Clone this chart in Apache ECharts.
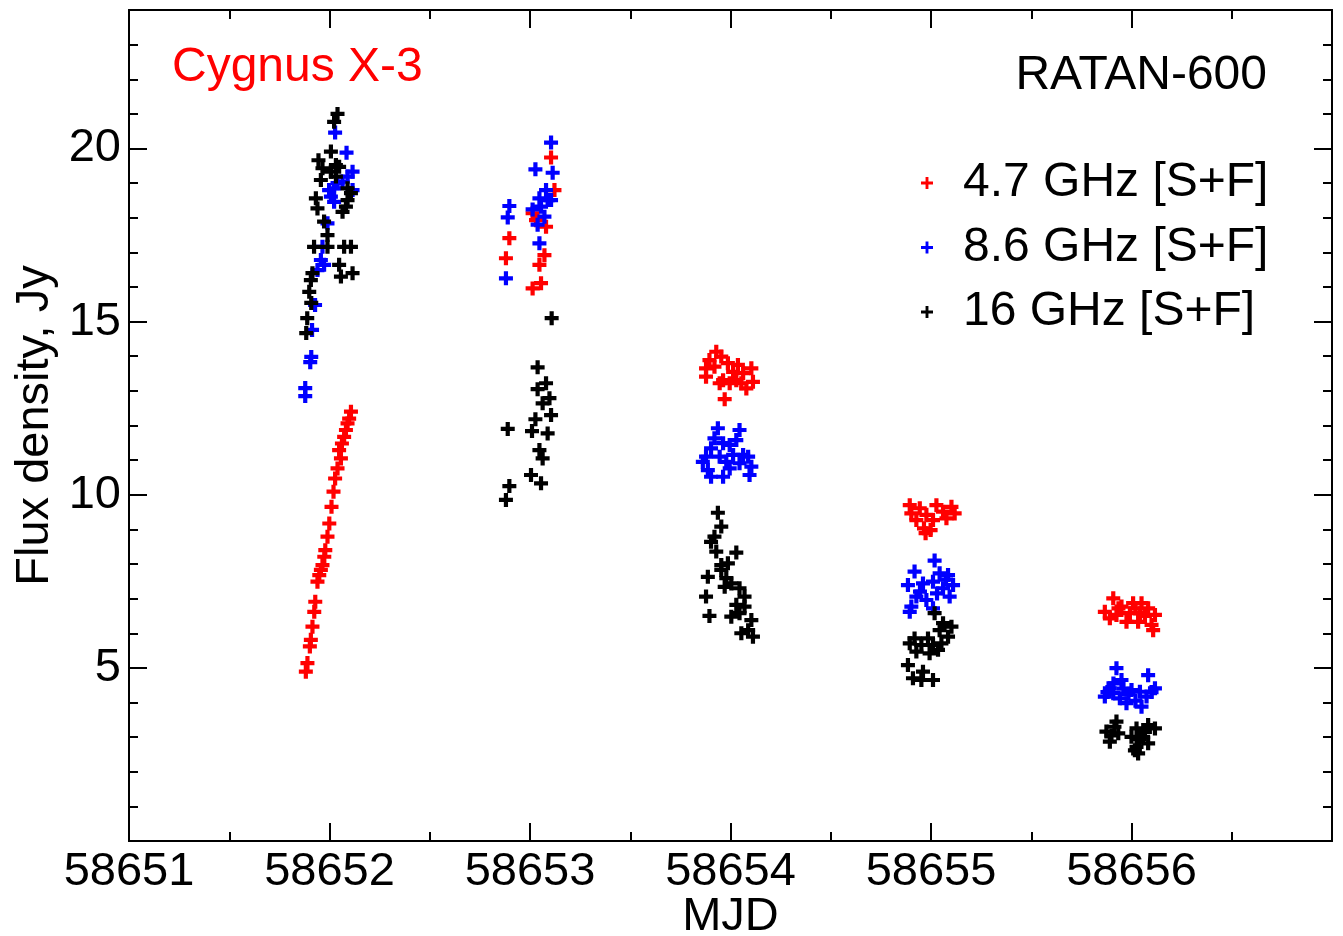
<!DOCTYPE html>
<html>
<head>
<meta charset="utf-8">
<script src="https://cdn.jsdelivr.net/npm/echarts@6/dist/echarts.min.js"></script>
<style>
html,body{margin:0;padding:0;background:#fff;}
#chart{width:1343px;height:936px;}
</style>
</head>
<body>
<div id="chart"></div>
<script>
// ---- data ----
const seriesNames = ['4.7 GHz [S+F]', '8.6 GHz [S+F]', '16 GHz [S+F]'];
const seriesColors = ['#ff0000', '#0000ff', '#000000'];
const xTickLabels = ['58651', '58652', '58653', '58654', '58655', '58656'];
const yTickLabels = ['5', '10', '15', '20'];

const mjd47 = [
  58652.107,58652.098,58652.090,58652.082,58652.073,58652.062,58652.048,58652.057,58652.040,58652.028,
  58652.020,58652.010,58651.999,58651.990,58651.979,58651.974,58651.965,58651.957,58651.949,58651.940,
  58651.929,58651.924,58651.915,58651.907,58651.902,58651.890,58651.882,
  58653.105,58653.122,58653.030,58653.080,58653.072,58653.047,58653.055,58653.013,58652.897,58652.880,58653.013,
  58653.929,58653.954,58653.895,58653.878,58653.920,58653.987,58654.037,58654.104,58654.013,58654.063,
  58653.878,58653.963,58654.029,58654.112,58653.996,58654.079,58653.971,58653.946,58654.054,
  58654.894,58654.944,58655.027,58655.102,58654.902,58654.977,58655.060,58655.118,58654.927,58655.010,
  58655.077,58654.965,58654.998,58654.973,
  58655.909,58655.867,58655.950,58656.008,58656.050,58656.083,58656.117,58655.925,58655.992,58656.042,
  58655.975,58656.033,58656.100,58656.108,58655.892,58655.935,58656.067,58656.020
];
const flux47 = [
  12.40,12.20,12.06,11.87,11.67,11.48,11.29,11.05,10.76,10.47,
  10.09,9.65,9.17,8.79,8.40,8.21,7.97,7.83,7.68,7.49,
  6.91,6.62,6.19,5.81,5.62,5.14,4.89,
  19.74,18.80,17.93,17.74,16.92,16.64,16.11,15.96,17.41,16.83,18.13,
  14.13,13.99,13.89,13.65,13.70,13.80,13.75,13.65,13.55,13.51,
  13.41,13.31,13.31,13.26,13.22,13.07,12.76,13.22,13.22,
  9.70,9.61,9.70,9.65,9.46,9.42,9.51,9.46,9.27,9.27,
  9.32,9.03,8.98,8.89,
  7.01,6.62,6.77,6.87,6.87,6.72,6.53,6.53,6.58,6.58,
  6.33,6.33,6.24,6.09,6.43,6.72,6.50,6.72
];

const mjd86 = [
  58652.028,58652.085,58652.115,58652.090,58652.065,58652.040,58652.023,58652.115,58652.007,58652.023,
  58651.998,58651.990,58651.965,58651.957,58651.973,58651.940,58651.928,58651.913,58651.909,58651.904,
  58651.879,58651.879,
  58653.105,58653.027,58653.113,58653.080,58653.047,58653.088,58653.105,58653.013,58653.072,58653.038,
  58653.047,58652.897,58652.889,58652.880,58653.055,
  58653.937,58654.045,58653.920,58654.029,58653.963,58653.903,58653.996,58653.878,58653.946,58654.013,
  58654.063,58654.088,58653.862,58653.979,58654.045,58654.104,58653.887,58653.963,58653.903,58654.095,
  58653.996,
  58655.018,58654.918,58655.043,58655.085,58654.885,58654.960,58655.010,58655.110,58655.060,58654.927,
  58654.977,58655.093,58654.902,58655.010,58654.894,58654.945,58655.030,58655.075,
  58655.925,58656.083,58655.950,58655.892,58656.000,58656.117,58656.042,58655.867,58655.942,58656.075,
  58655.975,58656.050,58655.909,58655.910,58655.985,58656.020,58656.100,58655.880,58655.960
];
const flux86 = [
  20.46,19.88,19.33,19.19,19.04,19.00,18.85,18.80,18.61,18.46,
  18.80,17.84,17.16,16.78,16.64,16.49,15.48,14.76,13.98,13.83,
  13.08,12.85,
  20.17,19.40,19.30,18.80,18.56,18.51,18.51,18.24,18.03,17.80,
  17.26,18.34,18.01,16.25,18.32,
  11.92,11.87,11.63,11.58,11.49,11.34,11.44,11.10,11.10,11.15,
  11.15,11.10,10.95,10.95,10.91,10.81,10.71,10.52,10.52,10.57,
  10.76,
  8.10,7.78,7.73,7.68,7.39,7.44,7.49,7.39,7.30,7.06,
  6.96,7.06,6.77,6.72,6.62,7.20,7.15,7.55,
  4.99,4.79,4.65,4.41,4.36,4.41,4.31,4.17,4.12,4.17,
  3.98,3.88,4.27,4.55,4.25,4.05,4.30,4.30,4.40
];

const mjd16 = [
  58652.040,58652.023,58652.007,58651.945,58651.965,58652.032,58652.048,58652.007,58651.957,58652.032,
  58652.090,58652.107,58651.932,58652.090,58651.940,58652.082,58652.065,58651.973,58651.990,58651.923,
  58651.990,58652.073,58652.107,58652.048,58652.057,58652.115,58651.915,58651.907,58651.899,58651.909,
  58651.889,58651.884,
  58653.038,58653.080,58653.038,58653.097,58653.063,58653.105,58653.027,58652.889,58653.010,58653.088,
  58653.047,58653.063,58653.005,58653.055,58652.897,58652.880,58653.108,
  58653.937,58653.954,58653.920,58653.903,58653.929,58654.029,58653.954,58653.987,58653.887,58653.954,
  58653.979,58654.004,58653.971,58654.045,58653.878,58654.070,58654.029,58654.070,58654.045,58654.004,
  58653.895,58654.104,58654.054,58654.112,58654.088,
  58655.018,58655.060,58655.102,58655.043,58655.085,58654.918,58654.985,58654.894,58654.952,58655.010,
  58655.052,58654.927,58654.993,58655.035,58654.885,58654.960,58654.910,58655.010,58654.952,
  58655.925,58655.875,58655.934,58655.892,58656.083,58656.117,58656.025,58656.000,58656.058,58656.083,
  58656.025,58656.033,58655.900,58655.915,58656.040,58656.067,58656.017
];
const flux16 = [
  21.00,20.77,19.91,19.66,19.43,19.52,19.47,19.33,19.09,19.19,
  18.85,18.71,18.56,18.51,18.27,18.32,18.17,17.89,17.50,17.16,
  17.16,17.16,17.16,16.64,16.30,16.40,16.40,16.20,15.86,15.54,
  15.10,14.67,
  13.68,13.22,13.05,12.79,12.64,12.30,12.18,11.90,11.84,11.77,
  11.29,11.05,10.57,10.33,10.25,9.85,15.10,
  9.48,9.08,8.79,8.64,8.36,8.33,7.97,8.02,7.63,7.83,
  7.59,7.44,7.34,7.30,7.06,7.06,6.82,6.77,6.58,6.48,
  6.50,6.38,6.00,5.90,6.09,
  6.58,6.29,6.19,6.09,5.90,5.85,5.85,5.71,5.66,5.66,
  5.71,5.47,5.42,5.52,5.08,4.89,4.70,4.65,4.65,
  3.45,3.16,3.11,2.87,3.35,3.25,3.25,3.01,3.01,2.82,
  2.72,2.53,3.05,3.30,2.95,3.15,2.62
];

// ---- chart ----
const FONT = 'Liberation Sans';
const PLUS = 'path://M0,3.5 H10 V6.5 H0 Z M3.5,0 H6.5 V10 H3.5 Z';
const LEG_PLUS = 'path://M0,3.8 H10 V6.2 H0 Z M3.8,0 H6.2 V10 H3.8 Z';

function zip(xs, ys) { return xs.map((x, i) => [x, ys[i]]); }
const seriesData = [zip(mjd47, flux47), zip(mjd86, flux86), zip(mjd16, flux16)];

const axisLineStyle = { color: '#000', width: 2 };

function xAx(pos, showLabel) {
  return {
    type: 'value', position: pos, min: 58651, max: 58657, interval: 1,
    axisLine: { show: true, onZero: false, lineStyle: axisLineStyle },
    axisTick: { show: true, inside: true, length: 18, lineStyle: axisLineStyle },
    minorTick: { show: true, splitNumber: 2, length: 9, lineStyle: axisLineStyle },
    splitLine: { show: false }, minorSplitLine: { show: false },
    axisLabel: {
      show: showLabel, fontSize: 47, fontFamily: FONT, color: '#000', margin: 8,
      formatter: v => { const s = String(Math.round(v)); return xTickLabels.includes(s) ? s : ''; }
    },
    name: showLabel ? 'MJD' : '', nameLocation: 'middle', nameGap: 53, nameMoveOverlap: false,
    nameTextStyle: { fontSize: 47, fontFamily: FONT, color: '#000' }
  };
}
function yAx(pos, interval, len, showLabel) {
  return {
    type: 'value', position: pos, min: 0, max: 24, interval: interval,
    axisLine: { show: true, onZero: false, lineStyle: axisLineStyle },
    axisTick: { show: true, inside: true, length: len, lineStyle: axisLineStyle },
    splitLine: { show: false },
    axisLabel: {
      show: showLabel, fontSize: 47, fontFamily: FONT, color: '#000', margin: 8,
      formatter: v => { const s = String(Math.round(v)); return yTickLabels.includes(s) ? s : ''; }
    },
    name: showLabel ? 'Flux density, Jy' : '', nameLocation: 'middle', nameGap: 70, nameMoveOverlap: false,
    nameTextStyle: { fontSize: 47, fontFamily: FONT, color: '#000' }
  };
}

const chart = echarts.init(document.getElementById('chart'), null, { renderer: 'canvas' });
chart.setOption({
  backgroundColor: '#fff',
  animation: false,
  grid: { left: 129, right: 11, top: 10, bottom: 95, containLabel: false, outerBoundsMode: 'none' },
  title: [
    { text: 'Cygnus X-3', left: 172, top: 44, padding: 0,
      textStyle: { fontSize: 48, fontWeight: 'normal', fontFamily: FONT, color: '#ff0000' } },
    { text: 'RATAN-600', right: 76, top: 52, padding: 0,
      textStyle: { fontSize: 48, fontWeight: 'normal', fontFamily: FONT, color: '#000' } }
  ],
  legend: {
    orient: 'vertical', left: 921, top: 158, padding: 0,
    itemWidth: 62, itemHeight: 12, itemGap: 14.5, symbolKeepAspect: true,
    textStyle: { fontSize: 48, fontFamily: FONT, color: '#000', lineHeight: 50 },
    data: seriesNames.map((n, i) => ({ name: n, icon: LEG_PLUS, itemStyle: { color: seriesColors[i] } }))
  },
  xAxis: [xAx('bottom', true), xAx('top', false)],
  yAxis: [yAx('left', 5, 18, true), yAx('left', 1, 9, false), yAx('right', 5, 18, false), yAx('right', 1, 9, false)],
  series: seriesNames.map((n, i) => ({
    name: n, type: 'scatter', xAxisIndex: 0, yAxisIndex: 0,
    symbol: PLUS, symbolSize: 14,
    itemStyle: { color: seriesColors[i], opacity: 1 },
    emphasis: { disabled: true },
    data: seriesData[i]
  }))
});
</script>
</body>
</html>
